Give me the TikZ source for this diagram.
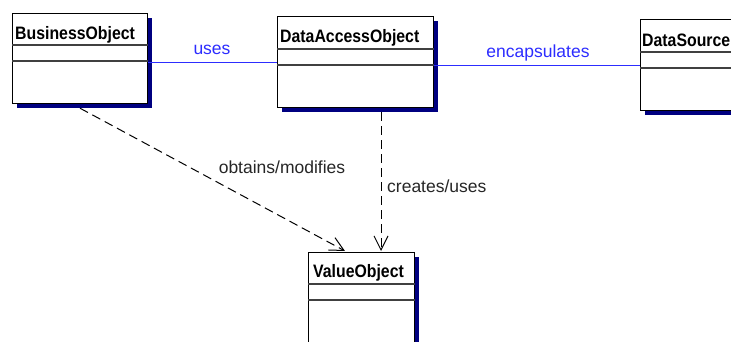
\documentclass[tikz,border=0pt]{standalone}
\usepackage{fontspec}
\setmainfont{Liberation Sans}
\usetikzlibrary{arrows.meta,calc,shadows}
\definecolor{shadowblue}{RGB}{0,0,128}
\definecolor{linkblue}{RGB}{45,45,255}
\newcommand{\cntext}[1]{\scalebox{0.88}[1]{#1}}
\begin{document}
\begin{tikzpicture}[x=1pt,y=-1pt,
  classbox/.style={draw=black, line width=1.2pt, fill=white, rectangle, inner sep=0pt, anchor=north west,
    drop shadow={shadow xshift=4.5pt, shadow yshift=-4.5pt, fill=shadowblue, opacity=1}},
  sep/.style={draw=black!75, line width=1.1pt},
  cname/.style={font=\fontsize{18}{18}\selectfont\bfseries, anchor=base west, inner sep=0pt},
  assoc/.style={draw=linkblue, line width=1.2pt},
  alabel/.style={text=linkblue, font=\fontsize{17.5}{17.5}\selectfont, inner sep=0pt},
  dep/.style={draw=black, line width=1pt, dash pattern=on 9pt off 5pt, -{Straight Barb[length=14pt,width=14pt]}},
  dlabel/.style={text=black!85, font=\fontsize{17.5}{17.5}\selectfont, inner sep=0pt}]
\useasboundingbox (0,0) rectangle (731,341);
\clip (0,0) rectangle (731,341);
\fill[white] (0,0) rectangle (731,341);

% class boxes
\node[classbox, minimum width=135pt, minimum height=90pt] (bo) at (12,13) {};
\node[classbox, minimum width=156pt, minimum height=91pt] (dao) at (277,16) {};
\node[classbox, minimum width=110pt, minimum height=91pt] (ds) at (640,19) {};
\node[classbox, minimum width=106pt, minimum height=120pt] (vo) at (308,252) {};

% compartments
\foreach \b/\o in {bo/32, bo/48, dao/33, dao/49, ds/33, ds/49, vo/32, vo/48}
  \draw[sep] ($(\b.north west)+(0,\o)$) -- ($(\b.north east)+(0,\o)$);

% class names
\node[cname] (bot) at ($(bo.north west)+(3,26)$) {\cntext{BusinessObject}};
\node[cname] (daot) at ($(dao.north west)+(3,26)$) {\cntext{DataAccessObject}};
\node[cname] (dst) at ($(ds.north west)+(2,27)$) {\cntext{DataSource}};
\node[cname] (vot) at ($(vo.north west)+(5,25)$) {\cntext{ValueObject}};

% associations
\draw[assoc] (bo.east |- dao.west) -- (dao.west);
\draw[assoc] (dao.east |- ds.west) -- (ds.west);
\node[alabel, anchor=base] (lu) at (212,54) {uses};
\node[alabel, anchor=base] (le) at (538,57) {encapsulates};

% dependencies
\coordinate (bos) at ($(bo.south west)+(68,4)$);
\coordinate (vot1) at ($(vo.north west)+(37,-1)$);
\coordinate (daos) at ($(dao.south west)+(104,4)$);
\coordinate (vot2) at ($(vo.north west)+(73,-1)$);
\draw[dep] (bos) -- (vot1);
\draw[dep] (daos) -- (vot2);
\node[dlabel, anchor=base] (lo) at (282,173) {obtains/modifies};
\node[dlabel, anchor=base west] (lc) at (387,192) {creates/uses};
\end{tikzpicture}
\end{document}
